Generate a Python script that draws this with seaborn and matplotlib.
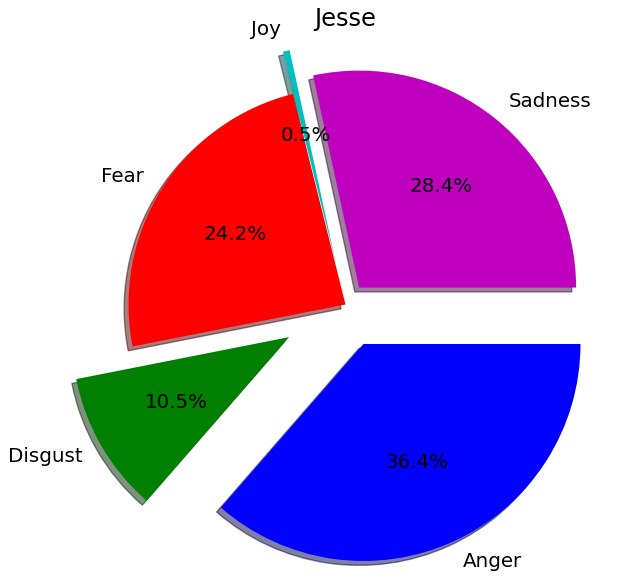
import matplotlib
matplotlib.use("Agg")
import matplotlib.pyplot as plt
import seaborn as sns

labels = ["Sadness", "Joy", "Fear", "Disgust", "Anger"]
values = [28.4, 0.5, 24.2, 10.5, 36.4]
explode = [0.1, 0.2, 0.0, 0.3, 0.2]
colors = sns.color_palette(["#bf00bf", "#00bfbf", "#ff0000", "#008000", "#0000ff"])

plt.rcParams["font.family"] = ["DejaVu Sans"]

fig = plt.figure(figsize=(6.28, 5.86), dpi=100)
ax = fig.add_axes([0.1182, 0.0175, 0.8639, 0.9258])
ax.pie(values, labels=labels, explode=explode, colors=colors,
       autopct="%1.1f%%", shadow={"ox": -0.0144, "oy": -0.0144},
       startangle=0,
       textprops={"fontsize": 14.3, "color": "black"})
ax.set_aspect("equal")
ax.set_title("Jesse", fontsize=17.4, pad=5.5)
fig.savefig("out.png", dpi=100)
